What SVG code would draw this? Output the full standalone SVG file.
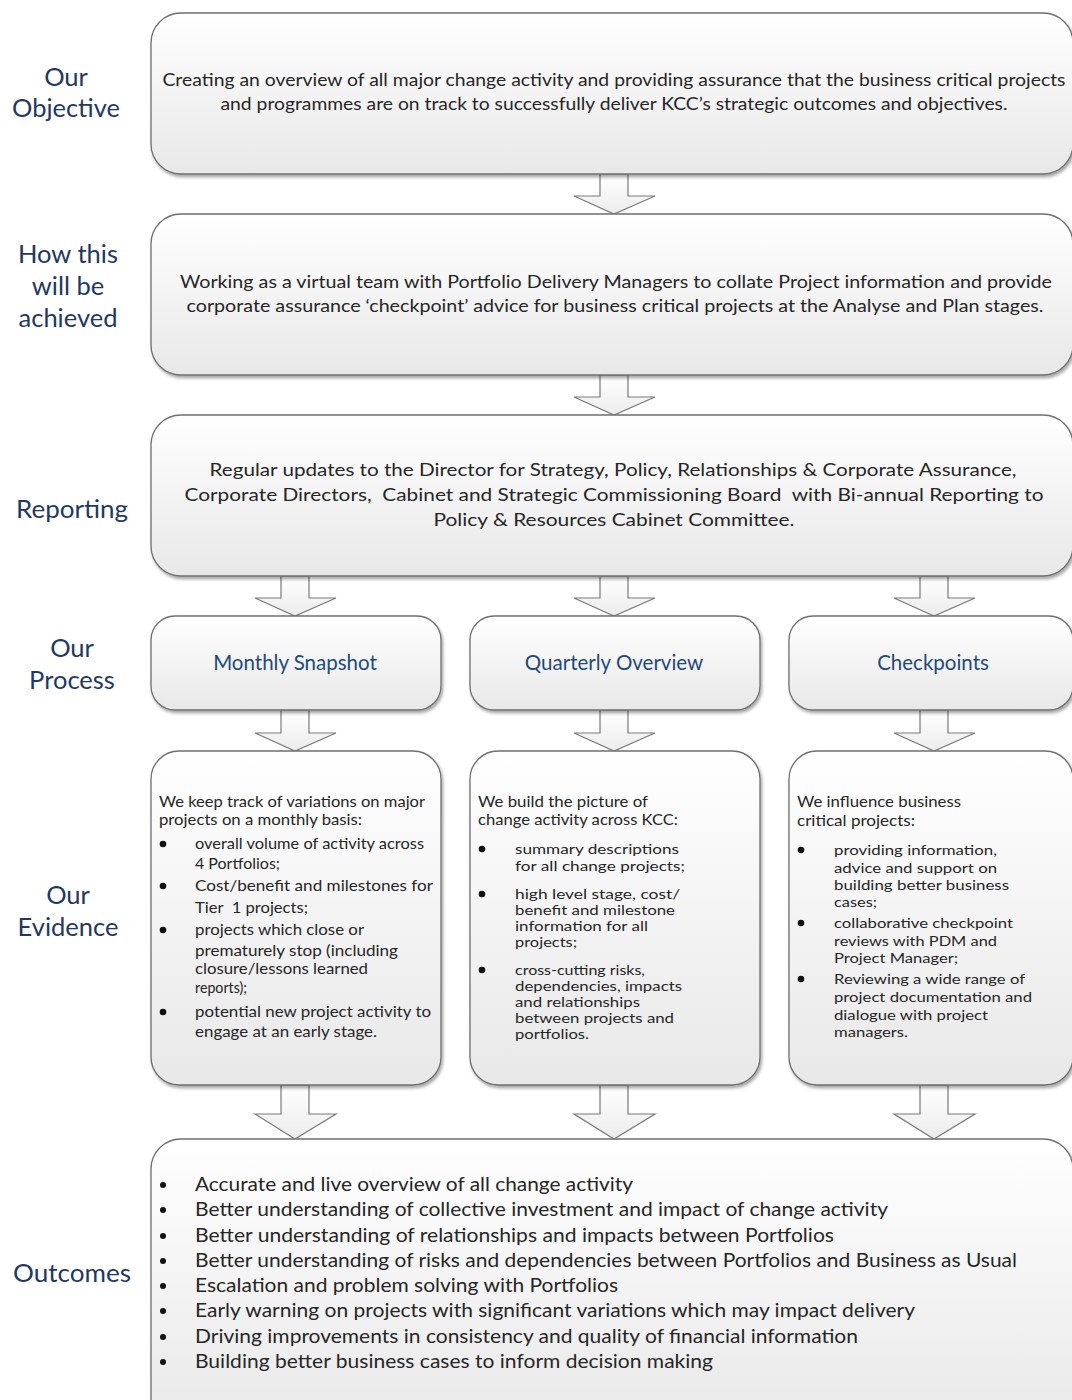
<svg xmlns="http://www.w3.org/2000/svg" width="1072" height="1400" viewBox="0 0 1072 1400">
<defs>
<linearGradient id="g" x1="0" y1="0" x2="0" y2="1">
<stop offset="0" stop-color="#ffffff"/>
<stop offset="1" stop-color="#e8e8e8"/>
</linearGradient>
<linearGradient id="ga" x1="0" y1="0" x2="0" y2="1">
<stop offset="0" stop-color="#ffffff"/>
<stop offset="1" stop-color="#ececec"/>
</linearGradient>
<filter id="sh" x="-5%" y="-5%" width="110%" height="115%">
<feDropShadow dx="1.5" dy="2.5" stdDeviation="1.8" flood-color="#000" flood-opacity="0.35"/>
</filter>
</defs>
<style>
.box{fill:url(#g);stroke:#6f6f6f;stroke-width:1.3;filter:url(#sh)}
.arr{fill:url(#ga);stroke:#7a7a7a;stroke-width:1.2;stroke-linejoin:miter}
.lbl{font-family:Lato,"Liberation Sans",sans-serif;font-size:25.5px;fill:#1f3864;text-anchor:middle}
.main{font-family:Lato,"Liberation Sans",sans-serif;font-size:17.5px;fill:#262626;text-anchor:middle}
.proc{font-family:Lato,"Liberation Sans",sans-serif;font-size:20.5px;fill:#1f497d;text-anchor:middle}
.ev{font-family:Lato,"Liberation Sans",sans-serif;font-size:16px;fill:#262626}
.evt{font-family:Lato,"Liberation Sans",sans-serif;font-size:14px;fill:#262626}
.out{font-family:Lato,"Liberation Sans",sans-serif;font-size:19px;fill:#262626}
.dot{fill:#111}
</style>
<rect width="1072" height="1400" fill="#ffffff"/>

<g id="connectors">
<path class="arr" d="M600,174 L628,174 L628,196 L655,196 L614,214 L574,196 L600,196 Z"/>
<path class="arr" d="M600,375 L628,375 L628,397 L655,397 L614,415 L574,397 L600,397 Z"/>
<path class="arr" d="M281,576 L309,576 L309,598 L336,598 L295,616 L255,598 L281,598 Z"/>
<path class="arr" d="M600,576 L628,576 L628,598 L655,598 L614,616 L574,598 L600,598 Z"/>
<path class="arr" d="M920,576 L948,576 L948,598 L975,598 L934,616 L894,598 L920,598 Z"/>
<path class="arr" d="M281,710 L309,710 L309,733 L336,733 L295,751 L255,733 L281,733 Z"/>
<path class="arr" d="M600,710 L628,710 L628,733 L655,733 L614,751 L574,733 L600,733 Z"/>
<path class="arr" d="M920,710 L948,710 L948,733 L975,733 L934,751 L894,733 L920,733 Z"/>
<path class="arr" d="M281,1085 L309,1085 L309,1114 L336,1114 L295,1139 L255,1114 L281,1114 Z"/>
<path class="arr" d="M600,1085 L628,1085 L628,1114 L655,1114 L614,1139 L574,1114 L600,1114 Z"/>
<path class="arr" d="M920,1085 L948,1085 L948,1114 L975,1114 L934,1139 L894,1114 L920,1114 Z"/>
</g>

<g id="labels">
<text class="lbl" x="66" y="86">Our</text>
<text class="lbl" x="66" y="117" textLength="108" lengthAdjust="spacingAndGlyphs">Objective</text>
<text class="lbl" x="68" y="263">How this</text>
<text class="lbl" x="68" y="295">will be</text>
<text class="lbl" x="68" y="327">achieved</text>
<text class="lbl" x="72" y="518" textLength="112" lengthAdjust="spacingAndGlyphs">Reporting</text>
<text class="lbl" x="72" y="657">Our</text>
<text class="lbl" x="72" y="689">Process</text>
<text class="lbl" x="68" y="904">Our</text>
<text class="lbl" x="68" y="936">Evidence</text>
<text class="lbl" x="72" y="1282" textLength="118" lengthAdjust="spacingAndGlyphs">Outcomes</text>
</g>

<g id="objective">
<rect class="box" x="151" y="13" width="922" height="161" rx="30"/>
<text class="main" x="614" y="86" textLength="903" lengthAdjust="spacingAndGlyphs">Creating an overview of all major change activity and providing assurance that the business critical projects</text>
<text class="main" x="614" y="110" textLength="787" lengthAdjust="spacingAndGlyphs">and programmes are on track to successfully deliver KCC’s strategic outcomes and objectives.</text>
</g>

<g id="achieved">
<rect class="box" x="151" y="214" width="922" height="161" rx="30"/>
<text class="main" x="616" y="288" textLength="872" lengthAdjust="spacingAndGlyphs">Working as a virtual team with Portfolio Delivery Managers to collate Project information and provide</text>
<text class="main" x="615" y="312" textLength="857" lengthAdjust="spacingAndGlyphs">corporate assurance ‘checkpoint’ advice for business critical projects at the Analyse and Plan stages.</text>
</g>

<g id="reporting">
<rect class="box" x="151" y="415" width="922" height="161" rx="30"/>
<text class="main" x="613" y="476" textLength="807" lengthAdjust="spacingAndGlyphs">Regular updates to the Director for Strategy, Policy, Relationships &amp; Corporate Assurance,</text>
<text class="main" x="614" y="501" textLength="859" lengthAdjust="spacingAndGlyphs" xml:space="preserve">Corporate Directors,  Cabinet and Strategic Commissioning Board  with Bi-annual Reporting to</text>
<text class="main" x="614" y="526" textLength="361" lengthAdjust="spacingAndGlyphs">Policy &amp; Resources Cabinet Committee.</text>
</g>

<g id="monthly">
<rect class="box" x="151" y="616" width="290" height="94" rx="24"/>
<text class="proc" x="295" y="670">Monthly Snapshot</text>
</g>
<g id="quarterly">
<rect class="box" x="470" y="616" width="290" height="94" rx="24"/>
<text class="proc" x="614" y="670">Quarterly Overview</text>
</g>
<g id="checkpoints">
<rect class="box" x="789" y="616" width="284" height="94" rx="24"/>
<text class="proc" x="933" y="670">Checkpoints</text>
</g>

<g id="evidence-monthly">
<rect class="box" x="151" y="751" width="290" height="334" rx="28"/>
<text class="ev" x="159" y="807" textLength="266" lengthAdjust="spacingAndGlyphs">We keep track of variations on major</text>
<text class="ev" x="159" y="825" textLength="203" lengthAdjust="spacingAndGlyphs">projects on a monthly basis:</text>
<circle class="dot" cx="163" cy="844" r="3.3"/>
<text class="ev" x="195" y="849" textLength="229" lengthAdjust="spacingAndGlyphs">overall volume of activity across</text>
<text class="ev" x="195" y="869" textLength="85" lengthAdjust="spacingAndGlyphs">4 Portfolios;</text>
<circle class="dot" cx="163" cy="886" r="3.3"/>
<text class="ev" x="195" y="891" textLength="238" lengthAdjust="spacingAndGlyphs">Cost/benefit and milestones for</text>
<text class="ev" x="195" y="913" textLength="113" lengthAdjust="spacingAndGlyphs" xml:space="preserve">Tier  1 projects;</text>
<circle class="dot" cx="163" cy="930" r="3.3"/>
<text class="ev" x="195" y="935" textLength="169" lengthAdjust="spacingAndGlyphs">projects which close or</text>
<text class="ev" x="195" y="956" textLength="203" lengthAdjust="spacingAndGlyphs">prematurely stop (including</text>
<text class="ev" x="195" y="974" textLength="173" lengthAdjust="spacingAndGlyphs">closure/lessons learned</text>
<text class="ev" x="195" y="993" textLength="52" lengthAdjust="spacingAndGlyphs">reports);</text>
<circle class="dot" cx="163" cy="1012" r="3.3"/>
<text class="ev" x="195" y="1017" textLength="236" lengthAdjust="spacingAndGlyphs">potential new project activity to</text>
<text class="ev" x="195" y="1037" textLength="182" lengthAdjust="spacingAndGlyphs">engage at an early stage.</text>
</g>

<g id="evidence-quarterly">
<rect class="box" x="470" y="751" width="290" height="334" rx="28"/>
<text class="ev" x="478" y="807" textLength="170" lengthAdjust="spacingAndGlyphs">We build the picture of</text>
<text class="ev" x="478" y="825" textLength="200" lengthAdjust="spacingAndGlyphs">change activity across KCC:</text>
<circle class="dot" cx="482" cy="849" r="3.3"/>
<text class="evt" x="515" y="854" textLength="164" lengthAdjust="spacingAndGlyphs">summary descriptions</text>
<text class="evt" x="515" y="871" textLength="170" lengthAdjust="spacingAndGlyphs">for all change projects;</text>
<circle class="dot" cx="482" cy="894" r="3.3"/>
<text class="evt" x="515" y="899" textLength="165" lengthAdjust="spacingAndGlyphs">high level stage, cost/</text>
<text class="evt" x="515" y="915" textLength="160" lengthAdjust="spacingAndGlyphs">benefit and milestone</text>
<text class="evt" x="515" y="931" textLength="133" lengthAdjust="spacingAndGlyphs">information for all</text>
<text class="evt" x="515" y="947" textLength="62" lengthAdjust="spacingAndGlyphs">projects;</text>
<circle class="dot" cx="482" cy="970" r="3.3"/>
<text class="evt" x="515" y="975" textLength="130" lengthAdjust="spacingAndGlyphs">cross-cutting risks,</text>
<text class="evt" x="515" y="991" textLength="167" lengthAdjust="spacingAndGlyphs">dependencies, impacts</text>
<text class="evt" x="515" y="1007" textLength="125" lengthAdjust="spacingAndGlyphs">and relationships</text>
<text class="evt" x="515" y="1023" textLength="159" lengthAdjust="spacingAndGlyphs">between projects and</text>
<text class="evt" x="515" y="1039" textLength="74" lengthAdjust="spacingAndGlyphs">portfolios.</text>
</g>

<g id="evidence-checkpoints">
<rect class="box" x="789" y="751" width="284" height="334" rx="28"/>
<text class="ev" x="797" y="807" textLength="164" lengthAdjust="spacingAndGlyphs">We influence business</text>
<text class="ev" x="797" y="826" textLength="118" lengthAdjust="spacingAndGlyphs">critical projects:</text>
<circle class="dot" cx="801" cy="850" r="3.3"/>
<text class="evt" x="834" y="855" textLength="163" lengthAdjust="spacingAndGlyphs">providing information,</text>
<text class="evt" x="834" y="873" textLength="163" lengthAdjust="spacingAndGlyphs">advice and support on</text>
<text class="evt" x="834" y="890" textLength="175" lengthAdjust="spacingAndGlyphs">building better business</text>
<text class="evt" x="834" y="907" textLength="43" lengthAdjust="spacingAndGlyphs">cases;</text>
<circle class="dot" cx="801" cy="923" r="3.3"/>
<text class="evt" x="834" y="928" textLength="179" lengthAdjust="spacingAndGlyphs">collaborative checkpoint</text>
<text class="evt" x="834" y="946" textLength="163" lengthAdjust="spacingAndGlyphs">reviews with PDM and</text>
<text class="evt" x="834" y="963" textLength="124" lengthAdjust="spacingAndGlyphs">Project Manager;</text>
<circle class="dot" cx="801" cy="979" r="3.3"/>
<text class="evt" x="834" y="984" textLength="191" lengthAdjust="spacingAndGlyphs">Reviewing a wide range of</text>
<text class="evt" x="834" y="1002" textLength="198" lengthAdjust="spacingAndGlyphs">project documentation and</text>
<text class="evt" x="834" y="1020" textLength="154" lengthAdjust="spacingAndGlyphs">dialogue with project</text>
<text class="evt" x="834" y="1037" textLength="74" lengthAdjust="spacingAndGlyphs">managers.</text>
</g>

<g id="outcomes">
<rect class="box" x="151" y="1139" width="922" height="290" rx="30"/>
<circle class="dot" cx="163" cy="1185" r="3"/>
<text class="out" x="195" y="1191" textLength="438" lengthAdjust="spacingAndGlyphs">Accurate and live overview of all change activity</text>
<circle class="dot" cx="163" cy="1210" r="3"/>
<text class="out" x="195" y="1216" textLength="693" lengthAdjust="spacingAndGlyphs">Better understanding of collective investment and impact of change activity</text>
<circle class="dot" cx="163" cy="1236" r="3"/>
<text class="out" x="195" y="1242" textLength="639" lengthAdjust="spacingAndGlyphs">Better understanding of relationships and impacts between Portfolios</text>
<circle class="dot" cx="163" cy="1261" r="3"/>
<text class="out" x="195" y="1267" textLength="822" lengthAdjust="spacingAndGlyphs">Better understanding of risks and dependencies between Portfolios and Business as Usual</text>
<circle class="dot" cx="163" cy="1286" r="3"/>
<text class="out" x="195" y="1292" textLength="423" lengthAdjust="spacingAndGlyphs">Escalation and problem solving with Portfolios</text>
<circle class="dot" cx="163" cy="1311" r="3"/>
<text class="out" x="195" y="1317" textLength="720" lengthAdjust="spacingAndGlyphs">Early warning on projects with significant variations which may impact delivery</text>
<circle class="dot" cx="163" cy="1337" r="3"/>
<text class="out" x="195" y="1343" textLength="663" lengthAdjust="spacingAndGlyphs">Driving improvements in consistency and quality of financial information</text>
<circle class="dot" cx="163" cy="1362" r="3"/>
<text class="out" x="195" y="1368" textLength="518" lengthAdjust="spacingAndGlyphs">Building better business cases to inform decision making</text>
</g>
</svg>
